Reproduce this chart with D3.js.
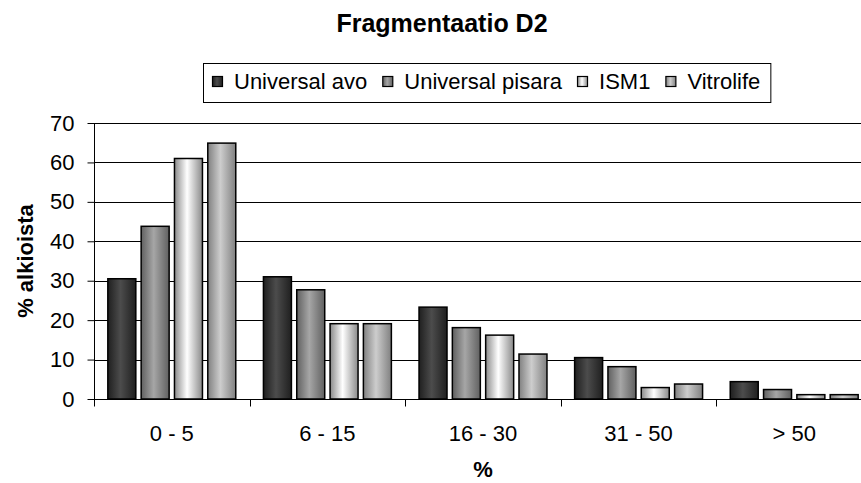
<!DOCTYPE html>
<html>
<head>
<meta charset="utf-8">
<script src="https://d3js.org/d3.v7.min.js"></script>
<style>
  body { margin: 0; background: #fff; }
  svg { display: block; font-family: "Liberation Sans", Arial, sans-serif; }
</style>
</head>
<body>
<svg width="861" height="483"></svg>
<script>
// data
var categories = ["0 - 5", "6 - 15", "16 - 30", "31 - 50", "> 50"];
var seriesNames = ["Universal avo", "Universal pisara", "ISM1", "Vitrolife"];
var universalAvo = [30.5, 31.0, 23.3, 10.5, 4.4];
var universalPisara = [43.8, 27.7, 18.1, 8.2, 2.4];
var ism1 = [61.0, 19.1, 16.2, 2.9, 1.1];
var vitrolife = [64.9, 19.1, 11.4, 3.8, 1.1];
var yTicks = [0, 10, 20, 30, 40, 50, 60, 70];

var seriesValues = [universalAvo, universalPisara, ism1, vitrolife];

// gradient colours per series: [edge, centre]
var shades = [["#1f1f1f", "#4c4c4c"], ["#606060", "#a6a6a6"], ["#8a8a8a", "#ffffff"], ["#808080", "#cdcdcd"]];

var svg = d3.select("svg"),
    width = +svg.attr("width"),
    height = +svg.attr("height");

var margin = {left: 94, top: 123, bottom: 84};
var plotRight = 872;
var plotBottom = height - margin.bottom;

var defs = svg.append("defs");
shades.forEach(function(s, i) {
  var g = defs.append("linearGradient")
      .attr("id", "grad" + i)
      .attr("x1", "0%").attr("x2", "100%")
      .attr("y1", "0%").attr("y2", "0%");
  g.append("stop").attr("offset", "0%").attr("stop-color", s[0]);
  g.append("stop").attr("offset", "45%").attr("stop-color", s[1]);
  g.append("stop").attr("offset", "100%").attr("stop-color", s[0]);
});

var x0 = d3.scaleBand()
    .domain(categories)
    .range([margin.left, plotRight])
    .padding(0);

var x1 = d3.scaleBand()
    .domain(d3.range(seriesNames.length))
    .range([0, x0.bandwidth()])
    .paddingInner(0.16)
    .paddingOuter(0.415);

var y = d3.scaleLinear()
    .domain([0, 70])
    .range([plotBottom, margin.top]);

// gridlines
svg.append("g")
    .attr("class", "grid")
  .selectAll("line")
  .data(yTicks.slice(1))
  .enter().append("line")
    .attr("x1", margin.left)
    .attr("x2", plotRight)
    .attr("y1", function(d) { return Math.round(y(d)) + 0.5; })
    .attr("y2", function(d) { return Math.round(y(d)) + 0.5; })
    .attr("stroke", "#000")
    .attr("stroke-width", 1);

// bars
var groups = svg.append("g")
  .selectAll("g")
  .data(categories)
  .enter().append("g")
    .attr("transform", function(d) { return "translate(" + x0(d) + ",0)"; });

groups.selectAll("rect")
  .data(function(d, ci) {
    return seriesValues.map(function(vals, si) { return {s: si, v: vals[ci]}; });
  })
  .enter().append("rect")
    .attr("x", function(d) { return x1(d.s); })
    .attr("y", function(d) { return y(d.v); })
    .attr("width", x1.bandwidth())
    .attr("height", function(d) { return y(0) - y(d.v); })
    .attr("fill", function(d) { return "url(#grad" + d.s + ")"; })
    .attr("stroke", "#000")
    .attr("stroke-width", 1.5);

// y axis
var yAxis = svg.append("g")
    .attr("transform", "translate(" + (margin.left + 0.5) + ",0)")
    .call(d3.axisLeft(y).tickValues(yTicks).tickSize(7).tickPadding(13));
yAxis.select(".domain").attr("stroke", "#000").attr("d", "M0," + y(70) + "V" + (y(0) + 0.5));
yAxis.selectAll(".tick line").attr("stroke", "#000");
yAxis.selectAll(".tick text")
    .attr("fill", "#000")
    .style("font-size", "22px");

// x axis
var xAxisG = svg.append("g")
    .attr("transform", "translate(0," + (Math.round(y(0)) + 0.5) + ")");
xAxisG.append("line")
    .attr("x1", margin.left)
    .attr("x2", plotRight)
    .attr("stroke", "#000");
xAxisG.selectAll(".sep")
  .data(categories)
  .enter().append("line")
    .attr("class", "sep")
    .attr("x1", function(d) { return Math.round(x0(d)) + 0.5; })
    .attr("x2", function(d) { return Math.round(x0(d)) + 0.5; })
    .attr("y1", 0)
    .attr("y2", 7)
    .attr("stroke", "#000");
xAxisG.selectAll(".lbl")
  .data(categories)
  .enter().append("text")
    .attr("class", "lbl")
    .attr("x", function(d) { return x0(d) + x0.bandwidth() / 2; })
    .attr("y", 41)
    .attr("text-anchor", "middle")
    .style("font-size", "22px")
    .text(function(d) { return d; });

// titles
svg.append("text")
    .attr("x", 442)
    .attr("y", 32)
    .attr("text-anchor", "middle")
    .style("font-size", "25px")
    .style("font-weight", "bold")
    .text("Fragmentaatio D2");

svg.append("text")
    .attr("x", (margin.left + plotRight) / 2)
    .attr("y", 477)
    .attr("text-anchor", "middle")
    .style("font-size", "22px")
    .style("font-weight", "bold")
    .text("%");

svg.append("text")
    .attr("transform", "translate(33," + ((margin.top + plotBottom) / 2) + ") rotate(-90)")
    .attr("text-anchor", "middle")
    .style("font-size", "22px")
    .style("font-weight", "bold")
    .text("% alkioista");

// legend
var legend = svg.append("g");
var lx = 212;
seriesNames.forEach(function(name, i) {
  legend.append("rect")
      .attr("x", lx + 0.5)
      .attr("y", 76.5)
      .attr("width", 10)
      .attr("height", 10)
      .attr("fill", "url(#grad" + i + ")")
      .attr("stroke", "#000")
      .attr("stroke-width", 1.2);
  var t = legend.append("text")
      .attr("x", lx + 22)
      .attr("y", 89)
      .style("font-size", "22px")
      .text(name);
  lx += 22 + t.node().getComputedTextLength() + 15;
});
legend.insert("rect", ":first-child")
    .attr("x", 203.5)
    .attr("y", 63.5)
    .attr("width", lx - 15 + 10 - 203)
    .attr("height", 39)
    .attr("fill", "#fff")
    .attr("stroke", "#000")
    .attr("stroke-width", 1);
</script>
</body>
</html>
